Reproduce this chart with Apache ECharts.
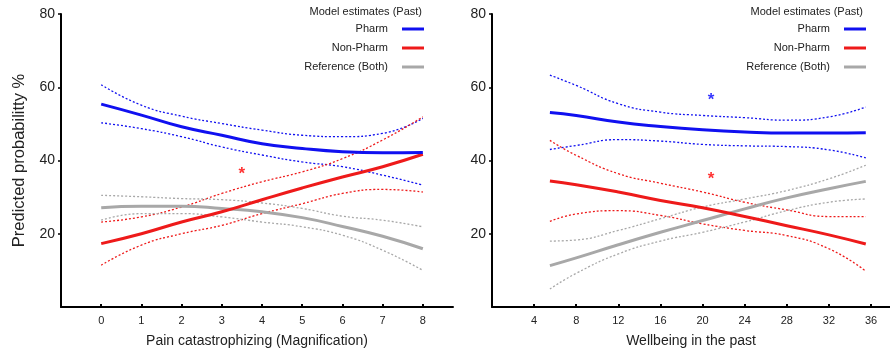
<!DOCTYPE html>
<html>
<head>
<meta charset="utf-8">
<script src="https://cdn.jsdelivr.net/npm/echarts@6/dist/echarts.min.js"></script>
<style>
  html, body { margin: 0; padding: 0; background: #fff; }
  #chart { width: 890px; height: 354px; }
</style>
</head>
<body>
<div id="chart"></div>
<script>
// left panel: pain catastrophizing (magnification)
const painX = [0, 1, 2, 3, 4, 5, 6, 7, 8];
const painPharm   = [55.4, 52.4, 49.2, 46.9, 44.6, 43.3, 42.4, 42.1, 42.2];
const painPharmHi = [60.7, 55.1, 52.1, 50.1, 48.3, 46.9, 46.5, 47.4, 51.5];
const painPharmLo = [50.3, 48.7, 46.5, 43.7, 41.5, 39.6, 38.3, 36.0, 33.3];
const painNon     = [17.3, 20.0, 23.2, 26.0, 29.3, 32.5, 35.5, 38.3, 41.7];
const painNonHi   = [23.2, 24.6, 27.3, 31.0, 34.2, 36.9, 40.5, 45.6, 51.9];
const painNonLo   = [11.4, 16.9, 20.0, 22.3, 25.5, 28.2, 31.0, 32.1, 31.4];
const painRef     = [27.1, 27.5, 27.5, 26.9, 26.0, 24.4, 22.0, 19.3, 15.9];
const painRefHi   = [30.5, 30.1, 29.6, 29.3, 28.4, 26.9, 24.8, 23.7, 21.9];
const painRefLo   = [23.7, 25.5, 25.5, 24.6, 23.2, 21.9, 19.6, 15.5, 10.0];
const painStars   = [[3.5, 36.9, 'red']];

// right panel: wellbeing in the past
const wellX = [5.5, 8, 12, 16, 20, 24, 28, 32, 35.5];
const wellPharm   = [53.1, 52.3, 50.5, 49.3, 48.4, 47.8, 47.5, 47.5, 47.6];
const wellPharmHi = [63.3, 60.5, 55.5, 53.2, 52.3, 51.7, 51.0, 51.9, 54.6];
const wellPharmLo = [43.0, 44.1, 45.7, 45.3, 44.4, 44.0, 43.8, 42.9, 40.7];
const wellNon     = [34.4, 33.4, 31.4, 29.1, 27.1, 24.7, 22.2, 19.7, 17.2];
const wellNonHi   = [45.5, 41.4, 36.4, 33.8, 31.4, 28.6, 26.5, 24.7, 24.7];
const wellNonLo   = [23.4, 25.4, 26.3, 25.0, 22.7, 20.9, 19.5, 15.9, 9.8];
const wellRef     = [11.3, 13.4, 17.0, 20.4, 23.6, 26.8, 29.8, 32.3, 34.3];
const wellRefHi   = [18.0, 18.3, 20.9, 24.1, 27.3, 29.5, 31.8, 35.0, 38.7];
const wellRefLo   = [4.9, 9.2, 14.5, 18.0, 20.4, 23.2, 26.3, 28.6, 29.5];
const wellStars   = [[20.8, 56.9, 'blue'], [20.8, 35.3, 'red']];

const painTicks = [0, 1, 2, 3, 4, 5, 6, 7, 8];
const wellTicks = [4, 8, 12, 16, 20, 24, 28, 32, 36];
const yTicks = [20, 40, 60, 80];
const legendNames = ['Pharm', 'Non-Pharm', 'Reference (Both)'];

const BLUE = '#1010f0', RED = '#ee1a1a', GRAY = '#a8a8a8';
const FONT = 'Liberation Sans, Arial, sans-serif';

const pairs = (xs, ys) => xs.map((x, i) => [x, ys[i]]);

function mainLine(name, idx, xs, ys, color) {
  return {
    name, type: 'line', xAxisIndex: idx, yAxisIndex: idx,
    data: pairs(xs, ys), smooth: true, showSymbol: false,
    itemStyle: { color }, lineStyle: { color, width: 3 }, z: 3
  };
}
function ciLine(name, idx, xs, ys, color) {
  return {
    name, type: 'line', xAxisIndex: idx, yAxisIndex: idx,
    data: pairs(xs, ys), smooth: true, showSymbol: false,
    itemStyle: { color }, lineStyle: { color, width: 1.3, type: [2, 2] }, z: 2
  };
}
function stars(idx, pts) {
  return {
    type: 'scatter', xAxisIndex: idx, yAxisIndex: idx,
    data: pts.map(p => ({ value: [p[0], p[1]], label: { color: p[2] } })),
    symbolSize: 2, itemStyle: { color: 'rgba(0,0,0,0)' }, z: 5,
    label: { show: true, position: 'inside', formatter: '*', fontSize: 17, fontWeight: 'bold', fontFamily: FONT, offset: [0, 2] }
  };
}

function xAxis(idx, min, max, ticks, name) {
  return {
    type: 'value', gridIndex: idx, min, max,
    name, nameLocation: 'middle', nameGap: 27,
    nameTextStyle: { fontSize: 14, color: '#222', fontFamily: FONT },
    axisLine: { onZero: false, lineStyle: { color: '#000', width: 2 } },
    axisTick: { inside: true, length: 3, customValues: ticks, lineStyle: { color: '#000', width: 2 } },
    axisLabel: { customValues: ticks, fontSize: 11, color: '#222', margin: 8, fontFamily: FONT },
    splitLine: { show: false }
  };
}
function yAxis(idx, name) {
  return {
    type: 'value', gridIndex: idx, min: 0, max: 80,
    name, nameLocation: 'middle', nameGap: 33,
    nameTextStyle: { fontSize: 16.5, color: '#222', fontFamily: FONT },
    axisLine: { show: true, onZero: false, lineStyle: { color: '#000', width: 2 } },
    axisTick: { show: true, length: 3, customValues: yTicks, lineStyle: { color: '#000', width: 1.5 } },
    axisLabel: { customValues: yTicks, fontSize: 14, color: '#222', margin: 6, fontFamily: FONT },
    splitLine: { show: false }
  };
}
function legend(right) {
  return {
    data: legendNames, orient: 'vertical', right, top: 22, padding: 0,
    align: 'right', icon: 'rect', itemWidth: 22, itemHeight: 3, itemGap: 5,
    selectedMode: false,
    textStyle: { fontSize: 11, color: '#222', fontFamily: FONT, lineHeight: 14, padding: [0, 9, 0, 0] }
  };
}

const chart = echarts.init(document.getElementById('chart'));
chart.setOption({
  animation: false,
  title: [
    { text: 'Model estimates (Past)', right: 468, top: 6, padding: 0,
      textStyle: { fontSize: 11, fontWeight: 'normal', color: '#222', fontFamily: FONT } },
    { text: 'Model estimates (Past)', right: 27, top: 6, padding: 0,
      textStyle: { fontSize: 11, fontWeight: 'normal', color: '#222', fontFamily: FONT } }
  ],
  legend: [legend(466), legend(24)],
  grid: [
    { left: 61, top: 14, width: 392, height: 293 },
    { left: 492, top: 14, width: 398, height: 293 }
  ],
  xAxis: [
    xAxis(0, -1, 8.75, painTicks, 'Pain catastrophizing (Magnification)'),
    xAxis(1, 0, 37.8, wellTicks, 'Wellbeing in the past')
  ],
  yAxis: [yAxis(0, 'Predicted probabilitty %'), yAxis(1, '')],
  series: [
    ciLine('Pharm hi', 0, painX, painPharmHi, BLUE),
    ciLine('Pharm lo', 0, painX, painPharmLo, BLUE),
    ciLine('Non-Pharm hi', 0, painX, painNonHi, RED),
    ciLine('Non-Pharm lo', 0, painX, painNonLo, RED),
    ciLine('Reference hi', 0, painX, painRefHi, GRAY),
    ciLine('Reference lo', 0, painX, painRefLo, GRAY),
    mainLine('Reference (Both)', 0, painX, painRef, GRAY),
    mainLine('Non-Pharm', 0, painX, painNon, RED),
    mainLine('Pharm', 0, painX, painPharm, BLUE),
    stars(0, painStars),

    ciLine('Pharm hi', 1, wellX, wellPharmHi, BLUE),
    ciLine('Pharm lo', 1, wellX, wellPharmLo, BLUE),
    ciLine('Non-Pharm hi', 1, wellX, wellNonHi, RED),
    ciLine('Non-Pharm lo', 1, wellX, wellNonLo, RED),
    ciLine('Reference hi', 1, wellX, wellRefHi, GRAY),
    ciLine('Reference lo', 1, wellX, wellRefLo, GRAY),
    mainLine('Reference (Both)', 1, wellX, wellRef, GRAY),
    mainLine('Non-Pharm', 1, wellX, wellNon, RED),
    mainLine('Pharm', 1, wellX, wellPharm, BLUE),
    stars(1, wellStars)
  ]
});
</script>
</body>
</html>
